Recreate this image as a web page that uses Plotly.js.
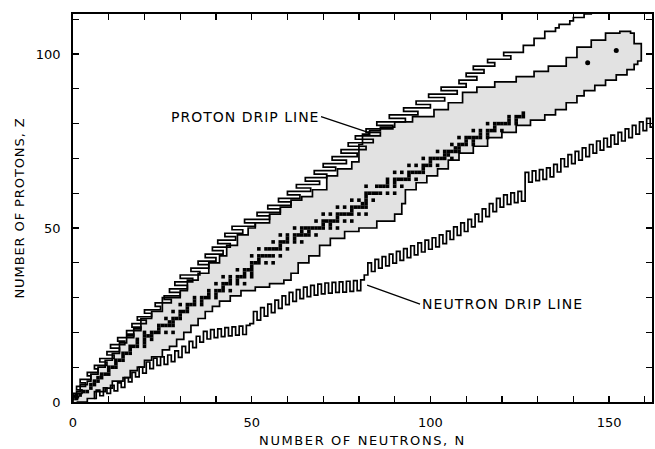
<!DOCTYPE html>
<html><head><meta charset="utf-8">
<script src="https://cdn.plot.ly/plotly-3.0.1.min.js"></script>
<style>html,body{margin:0;padding:0;background:#fff}#chart{width:655px;height:449px}</style>
</head><body><div id="chart"></div>
<script>
// Proton drip line: for each Z, the lightest bound N
const protonZ = [1,2,3,4,5,6,7,8,9,10,11,12,13,14,15,16,17,18,19,20,21,22,23,24,25,26,27,28,29,30,31,32,33,34,35,36,37,38,39,40,41,42,43,44,45,46,47,48,49,50,51,52,53,54,55,56,57,58,59,60,61,62,63,64,65,66,67,68,69,70,71,72,73,74,75,76,77,78,79,80,81,82,83,84,85,86,87,88,89,90,91,92,93,94,95,96,97,98,99,100,101,102,103,104,105,106,107,108,109,110,111,112];
const protonN = [1.5,0,2.5,1,3.5,2,5,4,7,6,9.5,7.5,11.5,9.5,13,10.5,14.5,12.5,17,15,19,16.5,20.5,18,22,20,24.5,23,27.5,25.5,30,27,32,28.5,33.5,30,35.5,33,38,35,40,37,42,39,44,40.5,45.5,42.5,47.5,44.5,51,48,55,51.5,58,54.5,61,57.5,63.5,60,66.5,62.5,69,65,71,67.5,73.5,70,76.5,72.5,79.5,75,82,77,84,79,86,82,89.5,85,93,88.5,96.5,92.5,100,96,104,99.5,107.5,103,110,108,113,110,115,112,118,116,122.5,120.5,126,126,129,129,132,132,135,136,139,140,143,145];

// Neutron drip line: for each N, the lowest bound Z
const neutronN = [6,7,8,9,10,11,12,13,14,15,16,17,18,19,20,21,22,23,24,25,26,27,28,29,30,31,32,33,34,35,36,37,38,39,40,41,42,43,44,45,46,47,48,49,50,51,52,53,54,55,56,57,58,59,60,61,62,63,64,65,66,67,68,69,70,71,72,73,74,75,76,77,78,79,80,81,82,83,84,85,86,87,88,89,90,91,92,93,94,95,96,97,98,99,100,101,102,103,104,105,106,107,108,109,110,111,112,113,114,115,116,117,118,119,120,121,122,123,124,125,126,127,128,129,130,131,132,133,134,135,136,137,138,139,140,141,142,143,144,145,146,147,148,149,150,151,152,153,154,155,156,157,158,159,160,161,162];
const neutronZ = [1,3.4,1.8,4.1,2.5,4.8,3.2,5.5,4.2,7,5.8,8.5,7.2,10,8.3,11.5,9.6,12.6,10.5,13,10.8,13.5,11.6,14.7,12.8,16,14.2,17.4,15.6,18.9,17.2,20.3,18.1,20.8,18.5,21,18.8,21.4,19,21.6,19.2,21.8,19.4,22,22.5,26,23.5,27.1,24.7,28.1,25.7,29.3,26.9,30.5,28,31.5,28.9,32.3,29.7,33,30.3,33.5,30.7,33.9,31.1,34.2,31.3,34.4,31.5,34.5,31.6,34.7,31.8,34.9,32,35.1,36.5,40,37.5,41,38.5,41.8,39.1,42.5,39.9,43.3,40.7,44.1,41.5,44.9,42.3,45.7,43.1,46.5,43.9,47.2,44.6,48,45.5,49.1,46.7,50.3,47.9,51.5,49,52.5,50.3,54,51.8,55.5,53.3,57,54.7,58.5,56,59.5,56.8,60.1,57.3,60.5,57.7,66,63.2,66.4,63.6,66.8,64,67.3,64.7,68.3,66.1,69.9,67.6,71.1,68.5,72,69.5,73,70.5,74,71.5,75,72.4,75.8,73.3,76.7,74.1,77.5,75,78.5,76,79.5,77,80.5,78,81.5,79];

// Known nuclei region: proton-rich edge and neutron-rich edge (bottom to top)
const knownLeftN = [0,0,1,2,4,5,7,9,11,13,15,17,19,22,25,30,32,35,38,41,43,46,49,51,55,58,61,64,67,71,74,78,80,81,83,86,90,95,101,105,109,113,118,124,129,133,138,141,145,149,153,156];
const knownLeftZ = [0,1,2,3,5,6,8,10,12,14,17,19,21,24,26,30,32,35,37,40,42,45,48,50,51.5,54,56,58,59,61,65,67,69,74,77,78,79,80.5,82,84,86,89,90.5,92,93.5,95,96.5,99,102,104,106,106.5];
const knownRightN = [1,4,6,9,11,14,16,18,20,22,25,27,29,31,33,35,37,39,41,44,47,51,55,59,61,63,66,69,72,76,80,85,90,92,93,96,99,102,105,108,112,116,120,124,128,132,135,138,141,143,146,149,152,155,157,158,159,159,157];
const knownRightZ = [0,1,3,4,6,7,9,10,12,13,15,16,18,20,22,24,26,27.5,29,30.5,32,33,34,35,37,40,42,45,47,49,50,52,54,57,61,63,65,67,69.5,71.5,73.5,76,77.5,79.5,81,82.5,84,86,88,89.5,91,92.5,94,95.5,97,98,100,103,106];

// Stable nuclei: neutron numbers of stable isotopes, listed by Z = 1..83
const stableByZ = [
 [0,1],[1,2],[3,4],[5],[5,6],[6,7],[7,8],[8,9,10],[10],[10,11,12],
 [12],[12,13,14],[14],[14,15,16],[16],[16,17,18,20],[18,20],[18,20,22],[20,21,22],[20,22,23,24,26,28],
 [24],[24,25,26,27,28],[27,28],[26,28,29,30],[30],[28,30,31,32],[32],[30,32,33,34,36],[34,36],[34,36,37,38,40],
 [38,40],[38,40,41,42,44],[42],[40,42,43,44,46,48],[44,46],[42,44,46,47,48,50],[48,50],[46,48,49,50],[50],[50,51,52,54,56],
 [52],[50,52,53,54,55,56,58],[],[52,54,55,56,57,58,60],[58],[56,58,59,60,62,64],[60,62],[58,60,62,63,64,65,66,68],[64,66],[62,64,65,66,67,68,69,70,72,74],
 [70,72],[68,70,71,72,73,74,76,78],[74],[70,72,74,75,76,77,78,80,82],[78],[74,76,78,79,80,81,82],[81,82],[78,80,82,84],[82],[82,83,84,85,86,88,90],
 [],[82,85,86,87,88,90,92],[88,90],[88,90,91,92,93,94,96],[94],[90,92,94,95,96,97,98],[98],[94,96,98,99,100,102],[100],[98,100,101,102,103,104,106],
 [104,105],[102,104,105,106,107,108],[107,108],[106,108,109,110,112],[110,112],[108,110,111,112,113,114,116],[114,116],[112,114,116,117,118,120],[118],[116,118,119,120,121,122,124],
 [122,124],[122,124,125,126],[126]
];
// two isolated long-lived points near the top of the known region
const isolatedN = [144, 152];
const isolatedZ = [97.5, 101];

const stableX = [], stableY = [];
stableByZ.forEach((ns, i) => ns.forEach(n => { stableX.push(n); stableY.push(i + 1); }));

const polyX = knownLeftN.concat(knownRightN.slice().reverse());
const polyY = knownLeftZ.concat(knownRightZ.slice().reverse());

const FONT = 'DejaVu Sans, Liberation Sans, sans-serif';
const sp = (t, s) => '<span style="letter-spacing:' + s + 'px">' + t + '</span>';

const traces = [
  {x: polyX, y: polyY, mode: 'lines', fill: 'toself', fillcolor: '#e2e2e2',
   line: {color: '#000', width: 1.7, shape: 'vh'}, hoverinfo: 'skip'},
  {x: protonN, y: protonZ, mode: 'lines', line: {color: '#000', width: 1.7, shape: 'vhv'}, hoverinfo: 'skip'},
  {x: neutronN, y: neutronZ, mode: 'lines', line: {color: '#000', width: 1.7, shape: 'hvh'}, hoverinfo: 'skip'},
  {x: stableX, y: stableY, mode: 'markers', marker: {symbol: 'square', size: 3.6, color: '#000'}, hoverinfo: 'skip'},
  {x: isolatedN, y: isolatedZ, mode: 'markers', marker: {symbol: 'circle', size: 5, color: '#000'}, hoverinfo: 'skip'}
];

const xTicks = [0,10,20,30,40,50,60,70,80,90,100,110,120,130,140,150,160];
const xTickText = ['0','','','','','50','','','','','100','','','','','150',''];
const yTicks = [0,10,20,30,40,50,60,70,80,90,100,110];
const yTickText = ['0','','','','','50','','','','','100',''];

const axisCommon = {
  showgrid: false, zeroline: false, showline: true, linecolor: '#000', linewidth: 1.8,
  mirror: 'ticks', ticks: 'inside', ticklen: 6, tickwidth: 1.3, tickcolor: '#000',
  tickmode: 'array', tickfont: {family: FONT, size: 13, color: '#000'}
};

const layout = {
  width: 655, height: 449,
  margin: {l: 73, r: 3, t: 14, b: 47},
  paper_bgcolor: '#fff', plot_bgcolor: '#fff',
  showlegend: false,
  xaxis: Object.assign({}, axisCommon, {
    range: [0, 162], tickvals: xTicks, ticktext: xTickText, ticklabelstandoff: 8,
    title: {text: sp('NUMBER OF NEUTRONS, N', 1.6), font: {family: FONT, size: 13, color: '#000'}, standoff: 6}
  }),
  yaxis: Object.assign({}, axisCommon, {
    range: [0, 111.5], tickvals: yTicks, ticktext: yTickText, ticklabelstandoff: 8,
    title: {text: sp('NUMBER OF PROTONS, Z', 0.9), font: {family: FONT, size: 13, color: '#000'}, standoff: 8}
  }),
  annotations: [
    {x: 82.8, y: 77.4, ax: 69.4, ay: 82, axref: 'x', ayref: 'y', xref: 'x', yref: 'y',
     text: sp('PROTON DRIP LINE', 1), xanchor: 'right', yanchor: 'middle', showarrow: true,
     arrowhead: 6, arrowsize: 0.5, arrowwidth: 1.3, arrowcolor: '#000',
     font: {family: FONT, size: 14, color: '#000'}},
    {x: 82.3, y: 33.6, ax: 97.1, ay: 28.1, axref: 'x', ayref: 'y', xref: 'x', yref: 'y',
     text: sp('NEUTRON DRIP LINE', 1.1), xanchor: 'left', yanchor: 'middle', showarrow: true,
     arrowhead: 0, arrowwidth: 1.3, arrowcolor: '#000',
     font: {family: FONT, size: 14, color: '#000'}}
  ]
};

Plotly.newPlot('chart', traces, layout, {staticPlot: true, displayModeBar: false});
</script>
</body></html>
